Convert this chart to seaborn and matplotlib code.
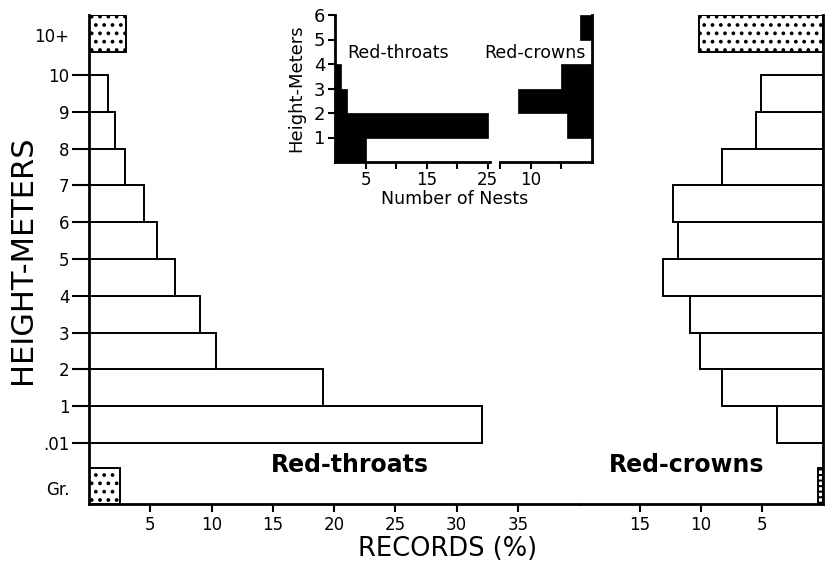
import numpy as np
import matplotlib
matplotlib.use("Agg")
import matplotlib.pyplot as plt
import seaborn as sns

# ---------------- data ----------------
height_labels = ["Gr.", ".01", "1", "2", "3", "4", "5", "6", "7", "8", "9", "10", "10+"]
# percent of records per 1-m band (.01-1, 1-2, ... 9-10)
rt_records = [32.1, 19.1, 10.4, 9.1, 7.0, 5.55, 4.5, 2.9, 2.1, 1.55]
rc_records = [3.8, 8.3, 10.1, 10.9, 13.1, 11.9, 12.3, 8.3, 5.5, 5.1]
rt_ground = [2.5]
rt_above10 = [3.0]
rc_ground = [0.4]
rc_above10 = [10.2]
rt_xticks = [5, 10, 15, 20, 25, 30, 35]
rc_xticks = [15, 10, 5]

# inset: number of nests per 1-m band (0-1 ... 5-6)
inset_heights = [1, 2, 3, 4, 5, 6]
rt_nests = [5, 25, 2, 1, 0, 0]
rc_nests = [0, 4, 12, 5, 0, 2]

# ---------------- style ----------------
sns.set_theme(style="ticks")
plt.rcParams["font.family"] = ["DejaVu Sans"]
plt.rcParams["hatch.linewidth"] = 1.5
plt.rcParams["axes.linewidth"] = 2.0
plt.rcParams["text.color"] = "black"
plt.rcParams["axes.labelcolor"] = "black"
plt.rcParams["xtick.color"] = "black"
plt.rcParams["ytick.color"] = "black"
plt.rcParams["axes.edgecolor"] = "black"

W, H = 825, 563
fig = plt.figure(figsize=(8.25, 5.63), dpi=100)
fig.patch.set_facecolor("white")


def fx(px):
    return px / W


def fy(py):
    return 1 - py / H


band_edges = list(range(0, 11))
ground_band = [-1.66, -0.69]
top_band = [10.63, 11.63]
ylims = (-1.66, 11.63)
label_pos = [-1.22] + list(range(0, 11)) + [11.09]


def hbars(ax, edges, values, **kw):
    e = np.asarray(edges, dtype=float)
    mids = (e[:-1] + e[1:]) / 2
    sns.histplot(y=mids, weights=values, bins=list(e), ax=ax, stat="count",
                 alpha=1, **kw)


bar_kw = dict(color="white", edgecolor="black", linewidth=1.4)

# ---------------- main axes ----------------
axL = fig.add_axes([fx(89), fy(504), fx(579 - 89), (504 - 15) / H])
axR = fig.add_axes([fx(579), fy(504), fx(823 - 579), (504 - 15) / H])

hbars(axL, band_edges, rt_records, **bar_kw)
hbars(axL, ground_band, rt_ground, hatch="..", **bar_kw)
hbars(axL, top_band, rt_above10, hatch="..", **bar_kw)

hbars(axR, band_edges, rc_records, **bar_kw)
hbars(axR, ground_band, rc_ground, hatch="---", **bar_kw)
hbars(axR, top_band, rc_above10, hatch="..", **bar_kw)

axL.set_xlim(0, 40)
axR.set_xlim(20, 0)
for ax in (axL, axR):
    ax.set_ylim(*ylims)
    ax.set_xlabel("")
    ax.set_ylabel("")
    ax.set_facecolor("white")
    ax.spines["top"].set_visible(False)

axL.spines["right"].set_visible(False)
axR.spines["left"].set_visible(False)
axR.spines["right"].set_visible(True)

axL.set_xticks(rt_xticks)
axL.set_xticklabels([str(t) for t in rt_xticks])
axR.set_xticks(rc_xticks)
axR.set_xticklabels([str(t) for t in rc_xticks])
for ax in (axL, axR):
    ax.tick_params(axis="x", direction="out", length=6, width=1.5,
                   labelsize=12, pad=3, colors="black")
axR.set_yticks([])

axL.set_yticks(label_pos)
axL.set_yticklabels(height_labels)
axL.tick_params(axis="y", direction="out", length=12, width=1.5,
                labelsize=12, pad=2, colors="black")
yt = axL.yaxis.get_major_ticks()
yt[0].tick1line.set_visible(False)
yt[-1].tick1line.set_visible(False)

fig.text(fx(23), fy(260), "HEIGHT-METERS", rotation=90, ha="center",
         va="center", fontsize=22, color="black")
fig.text(fx(448), fy(549), "RECORDS (%)", ha="center", va="center",
         fontsize=18.5, color="black")
fig.text(fx(350), fy(465), "Red-throats", ha="center", va="center",
         fontsize=17, fontweight="bold", color="black")
fig.text(fx(687), fy(465), "Red-crowns", ha="center", va="center",
         fontsize=17, fontweight="bold", color="black")

# ---------------- inset ----------------
in_bottom, in_top = 162, 15
axI1 = fig.add_axes([fx(335), fy(in_bottom), fx(490 - 335), (in_bottom - in_top) / H])
axI2 = fig.add_axes([fx(500), fy(in_bottom), fx(592 - 500), (in_bottom - in_top) / H])

inset_edges = [0] + inset_heights
ink = dict(color="black", edgecolor="black", linewidth=0.5)
hbars(axI1, inset_edges, rt_nests, **ink)
hbars(axI2, inset_edges, rc_nests, **ink)

axI1.set_xlim(0, 25.4)
axI2.set_xlim(15, 0)
for ax in (axI1, axI2):
    ax.set_ylim(0, 6)
    ax.set_facecolor("none")
    ax.set_xlabel("")
    ax.set_ylabel("")
    ax.spines["top"].set_visible(False)
    ax.tick_params(axis="x", direction="out", length=5, width=1.5,
                   labelsize=12, pad=1.5, colors="black")
axI1.spines["right"].set_visible(False)
axI2.spines["left"].set_visible(False)
axI2.spines["right"].set_visible(True)

axI1.set_xticks([5, 10, 15, 20, 25])
axI1.set_xticklabels(["5", "", "15", "", "25"])
axI2.set_xticks([15, 10, 5])
axI2.set_xticklabels(["", "10", ""])
axI2.set_yticks([])
axI1.set_yticks(inset_heights)
axI1.set_yticklabels([str(h) for h in inset_heights])
axI1.tick_params(axis="y", direction="out", length=5, width=1.5,
                 labelsize=13, pad=2, colors="black")

fig.text(fx(398), fy(53), "Red-throats", ha="center", va="center",
         fontsize=12.5, color="black")
fig.text(fx(535), fy(53), "Red-crowns", ha="center", va="center",
         fontsize=12.5, color="black")
fig.text(fx(455), fy(199), "Number of Nests", ha="center", va="center",
         fontsize=12.5, color="black")
fig.text(fx(296), fy(88), "Height-Meters", rotation=90, ha="center",
         va="center", fontsize=13, color="black")

fig.savefig("out.png", dpi=100, facecolor="white")
